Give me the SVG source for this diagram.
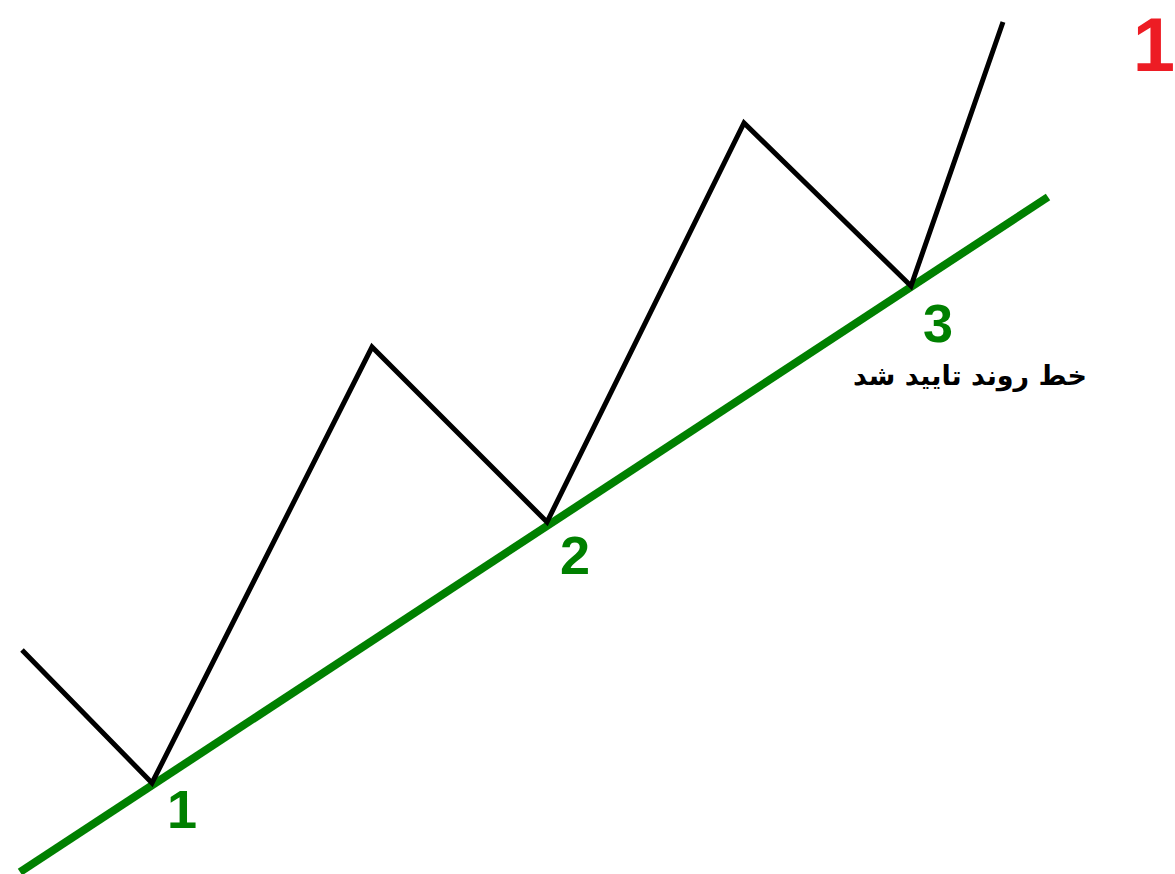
<svg xmlns="http://www.w3.org/2000/svg" width="1175" height="874" viewBox="0 0 1175 874">
<style>
.num{font-family:"Liberation Sans",Arial,sans-serif;font-weight:bold;font-size:54px;fill:#008000;text-anchor:middle}
.trend{stroke:#008000;stroke-width:8;fill:none}
.price{stroke:#000;stroke-width:5;fill:none;stroke-linejoin:miter}
</style>
<rect width="1175" height="874" fill="#fff"/>
<g id="connectors">
<line class="trend" x1="20" y1="872" x2="1048" y2="197"/>
<polyline class="price" points="22,650 152,783 372,347 547,522 744,123 911,286 1003,22"/>
</g>
<g id="p1"><text class="num" x="182" y="828">1</text></g>
<g id="p2"><text class="num" x="575" y="574">2</text></g>
<g id="p3"><text class="num" x="938" y="342">3</text></g>
<g id="label"><text x="970" y="385" font-family="'DejaVu Sans',sans-serif" font-weight="bold" font-size="27" text-anchor="middle" direction="rtl" fill="#000">خط روند تایید شد</text></g>
<g id="title"><text x="1154" y="71" font-family="'Liberation Sans',Arial,sans-serif" font-weight="bold" font-size="76" text-anchor="middle" fill="#ED1C24">1</text></g>
</svg>
